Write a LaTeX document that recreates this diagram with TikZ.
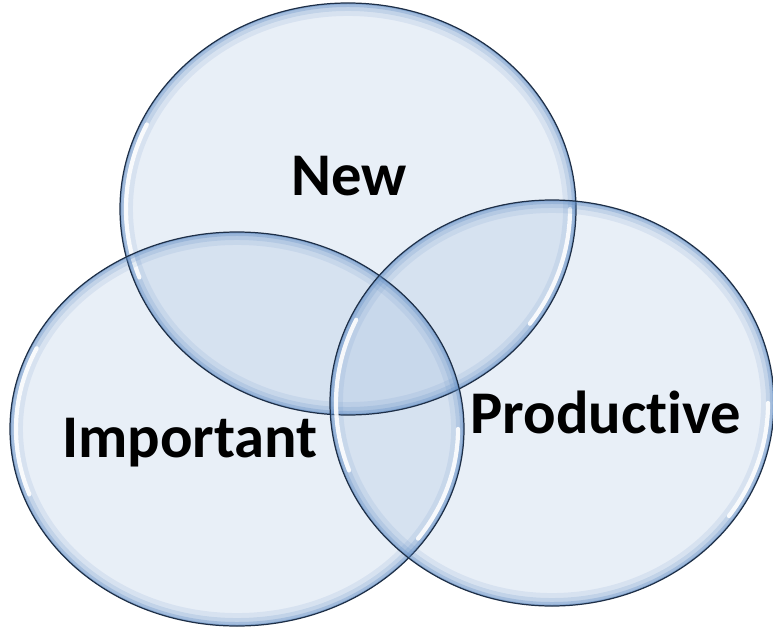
\documentclass[tikz,border=0pt]{standalone}
\usepackage{fontspec}
\setmainfont[Ligatures=NoCommon]{Carlito}
\usetikzlibrary{positioning}
\definecolor{venn-blue}{HTML}{5F8CC4}
\definecolor{venn-edge}{HTML}{1E2F47}
\colorlet{vennfill}{venn-blue!65!white}
\tikzset{
  setfill/.style={fill=vennfill,fill opacity=0.22},
  setedge/.style={draw=venn-edge,line width=0.7pt},
  setlabel/.style={font=\fontsize{34.5}{40}\selectfont\bfseries,text=black,inner sep=0pt}
}
% #1 centre x, #2 centre y, #3 x radius, #4 y radius (all in px)
\newcommand{\vennrim}[4]{%
\begin{scope}
\clip (#1,#2) ellipse [x radius=#3, y radius=#4];
% glow on the inside of the rim
\foreach \w/\o in {26/0.12,16/0.18,8/0.30,3/0.40} {
  \draw[venn-blue,line width=\w*0.567pt,opacity=\o] (#1,#2) ellipse [x radius=#3, y radius=#4];
}
% white highlights
\draw[white,line width=2.4pt,opacity=0.9,line cap=round]
  ([shift={(160:#3-6 and #4-6)}]#1,#2) arc [start angle=160, end angle=205, x radius=#3-6, y radius=#4-6];
\draw[white,line width=2.4pt,opacity=0.9,line cap=round]
  ([shift={(0:#3-6 and #4-6)}]#1,#2) arc [start angle=0, end angle=35, x radius=#3-6, y radius=#4-6];
\end{scope}
\draw[setedge] (#1,#2) ellipse [x radius=#3, y radius=#4];
}

\begin{document}
\begin{tikzpicture}[x=0.02cm,y=-0.02cm]
\useasboundingbox (0,0) rectangle (773,628);
% fills first, so that the overlaps darken
\fill[setfill] (348,209) ellipse [x radius=228, y radius=206];
\fill[setfill] (237,429) ellipse [x radius=227, y radius=197];
\fill[setfill] (552,403) ellipse [x radius=222, y radius=203];
% rims
\vennrim{348}{209}{228}{206}
\vennrim{237}{429}{227}{197}
\vennrim{552}{403}{222}{203}
% labels
\node[setlabel] (new) at (349,176) {New};
\node[setlabel] (important) at (190,443) {Important};
\node[setlabel] (productive) at (606,412) {Productive};
\end{tikzpicture}
\end{document}
